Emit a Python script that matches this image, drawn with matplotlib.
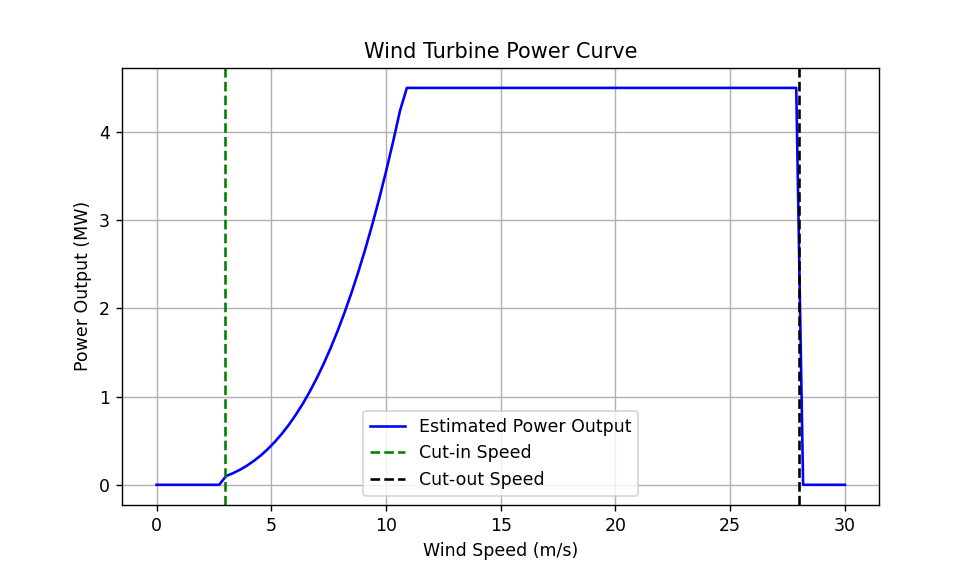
import matplotlib
matplotlib.use("Agg")
import matplotlib.pyplot as plt

wind_speed = [0.0, 2.73, 3.03, 3.33, 3.64, 3.94, 4.24, 4.55, 4.85, 5.15, 5.45, 5.76,
              6.06, 6.36, 6.67, 6.97, 7.27, 7.58, 7.88, 8.18, 8.48, 8.79, 9.09, 9.39,
              9.70, 10.00, 10.30, 10.61, 10.91, 27.88, 28.18, 30.0]
power_mw = [0.0, 0.0, 0.099, 0.131, 0.171, 0.217, 0.271, 0.334, 0.405, 0.485, 0.575, 0.678,
            0.790, 0.913, 1.053, 1.202, 1.364, 1.546, 1.737, 1.943, 2.165, 2.411, 2.666, 2.939,
            3.240, 3.55, 3.879, 4.240, 4.5, 4.5, 0.0, 0.0]
cut_in = 3
cut_out = 28

dpi = 125
fig, ax = plt.subplots(figsize=(977 / dpi, 567 / dpi), dpi=dpi)
ax.plot(wind_speed, power_mw, color='blue', label='Estimated Power Output')
ax.axvline(cut_in, color='green', linestyle='--', label='Cut-in Speed')
ax.axvline(cut_out, color='black', linestyle='--', label='Cut-out Speed')
ax.set_title('Wind Turbine Power Curve')
ax.set_xlabel('Wind Speed (m/s)')
ax.set_ylabel('Power Output (MW)')
ax.grid(True)
ax.legend(loc='lower center')
fig.savefig('out.png', dpi=dpi)
